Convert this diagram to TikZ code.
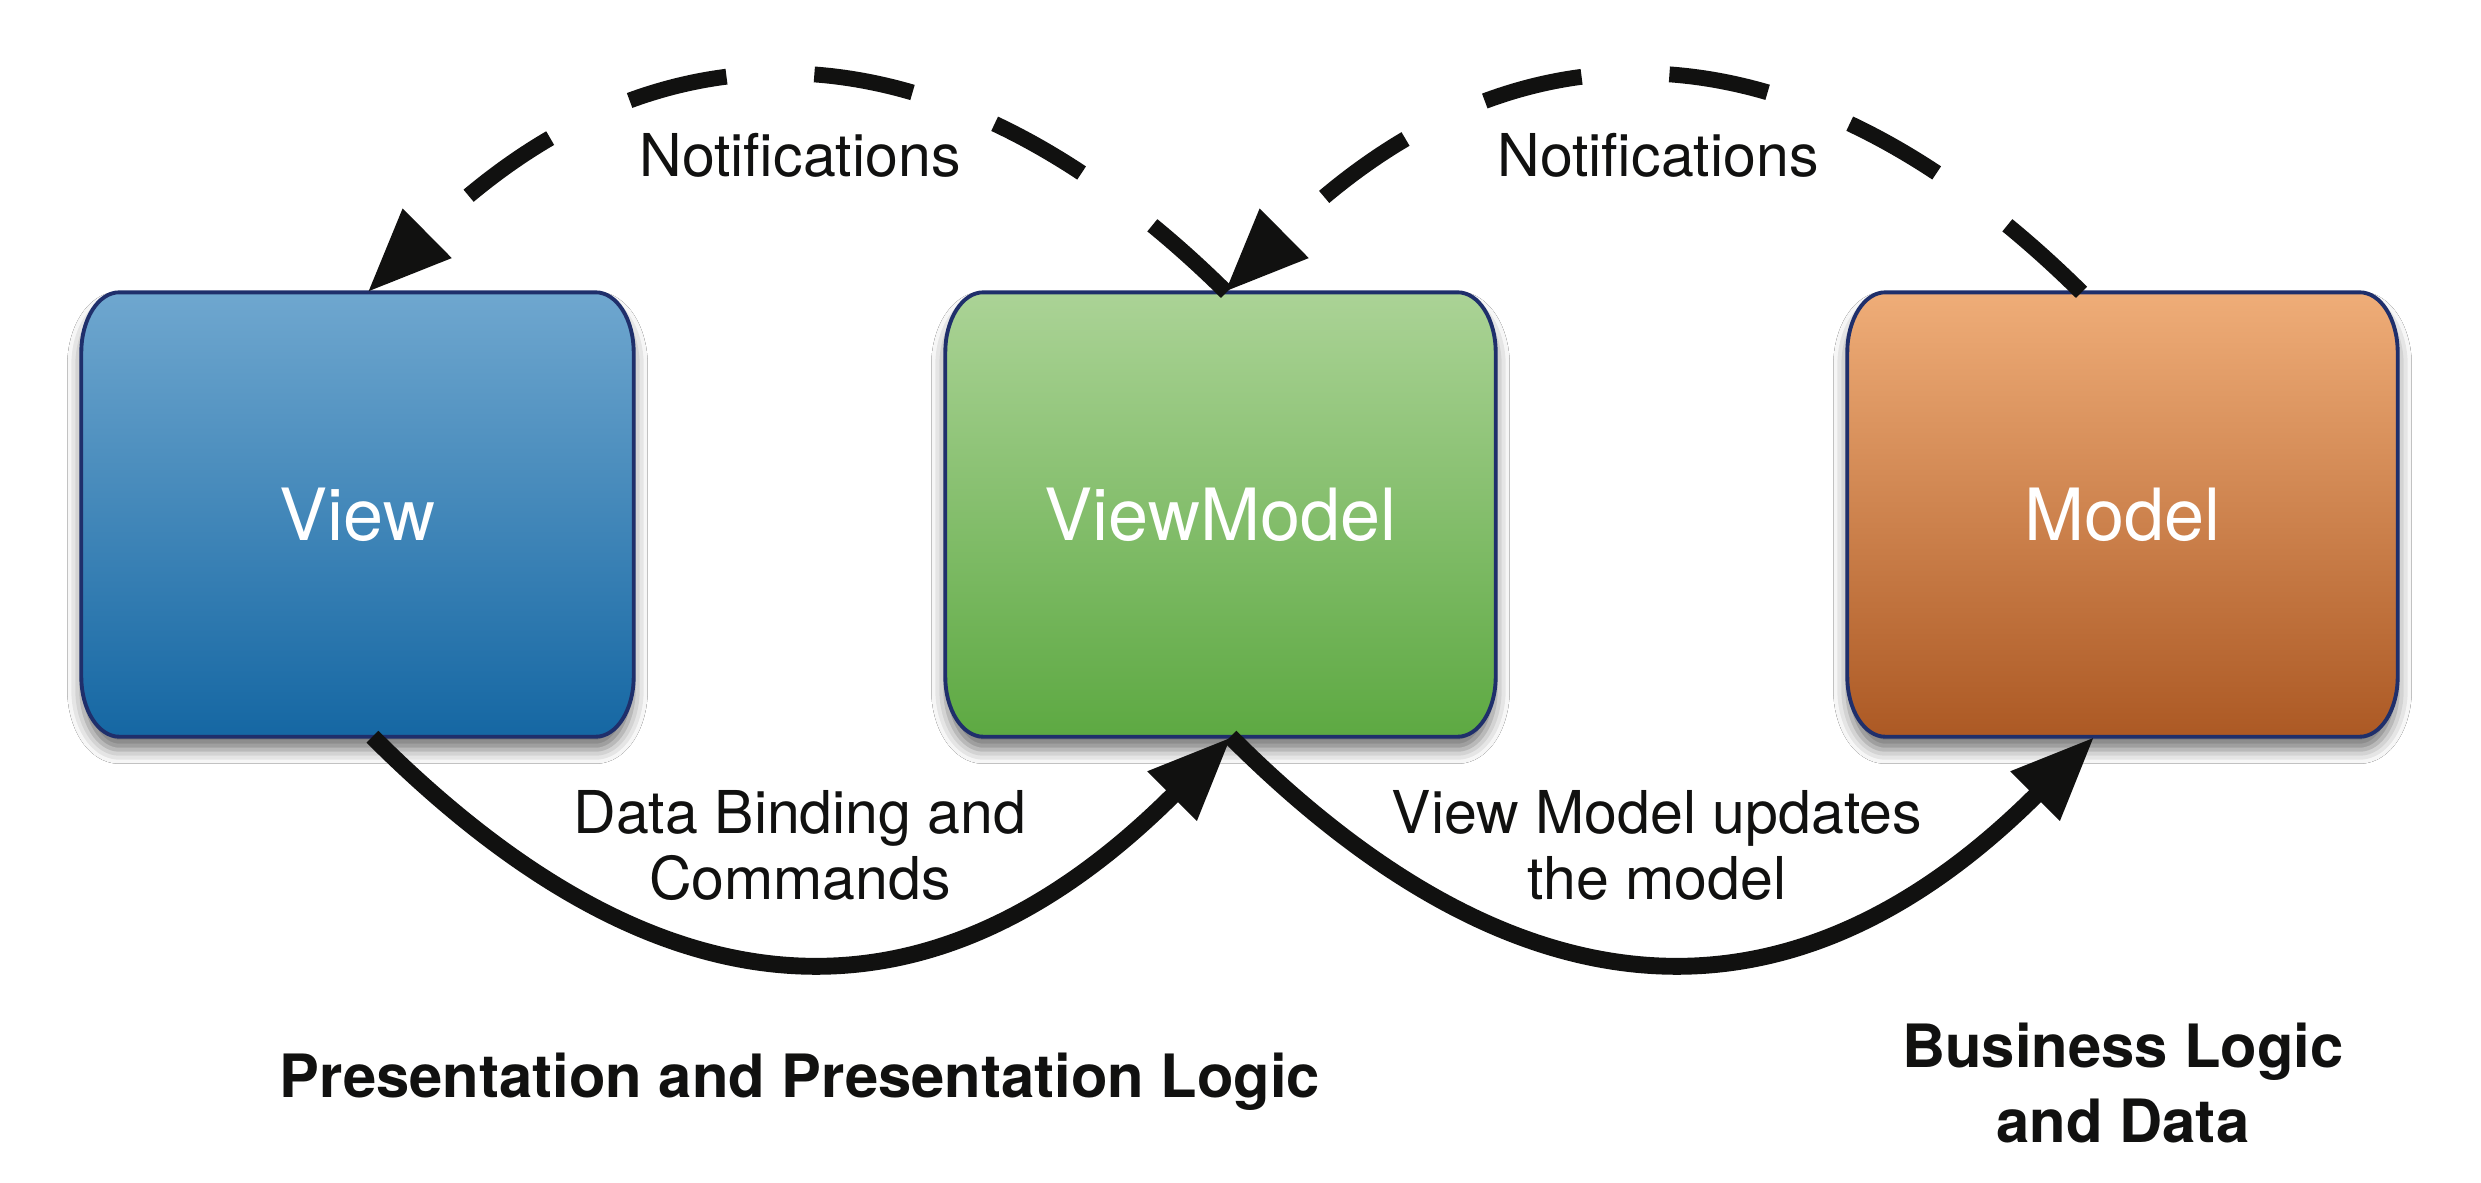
\documentclass[tikz,border=0pt]{standalone}
\usepackage{fontspec}
\setmainfont{TeX Gyre Heros}
\usetikzlibrary{arrows.meta,shadows.blur,calc}
\pgfdeclarelayer{background}
\pgfsetlayers{background,main}
\definecolor{viewtop}{HTML}{6FA7CF}
\definecolor{viewbot}{HTML}{1567A3}
\definecolor{vmtop}{HTML}{ABD396}
\definecolor{vmbot}{HTML}{5DA942}
\definecolor{modtop}{HTML}{EFAD78}
\definecolor{modbot}{HTML}{AC5924}
\definecolor{boxborder}{HTML}{1F2F6B}
\definecolor{inkblack}{HTML}{111110}
\newcommand\boxrx{0.38cm}
\newcommand\boxry{0.6cm}
\tikzset{
  boxnode/.style={minimum width=5.5cm, minimum height=4.43cm, inner sep=0pt,
    text=white, font=\fontsize{20.5pt}{24pt}\selectfont},
  lbl/.style={anchor=base, inner sep=0pt, text=inkblack,
    font=\fontsize{16.8pt}{20pt}\selectfont},
  boldlbl/.style={anchor=base, inner sep=0pt, text=inkblack,
    font=\fontsize{17pt}{20pt}\selectfont\bfseries},
  notify/.style={draw=inkblack, line width=4.5pt, dash pattern=on 1cm off 0.88cm,
    -{Triangle[length=0.84cm,width=0.65cm]}},
  flow/.style={draw=inkblack, line width=4.8pt,
    -{Triangle[length=0.84cm,width=0.65cm]}},
  boxshape/.style={draw=boxborder, line width=1.1pt,
    blur shadow={shadow xshift=0pt, shadow yshift=-0.13cm,
      shadow blur radius=0.14cm, shadow opacity=55}},
}
\newcommand\mvvmshape[3]{%
  \begin{pgfonlayer}{background}
  \path[boxshape, top color=#2, bottom color=#3]
    ([xshift=\boxrx]#1.north west) -- ([xshift=-\boxrx]#1.north east)
    arc[start angle=90, end angle=0, x radius=\boxrx, y radius=\boxry]
    -- ([yshift=\boxry]#1.south east)
    arc[start angle=0, end angle=-90, x radius=\boxrx, y radius=\boxry]
    -- ([xshift=\boxrx]#1.south west)
    arc[start angle=-90, end angle=-180, x radius=\boxrx, y radius=\boxry]
    -- ([yshift=-\boxry]#1.north west)
    arc[start angle=180, end angle=90, x radius=\boxrx, y radius=\boxry]
    -- cycle;
  \end{pgfonlayer}}
\begin{document}
\begin{tikzpicture}
\useasboundingbox (0,0) rectangle (24.81,-11.82);
\begin{pgfonlayer}{background}
  \fill[white] (0,0) rectangle (24.81,-11.82);
\end{pgfonlayer}

% boxes
\node[boxnode, minimum width=5.51cm] (view) at (3.575,-5.145) {View};
\node[boxnode, minimum width=5.49cm] (vm)   at (12.205,-5.145) {ViewModel};
\node[boxnode, minimum width=5.49cm] (model) at (21.225,-5.145) {Model};
\mvvmshape{view}{viewtop}{viewbot}
\mvvmshape{vm}{vmtop}{vmbot}
\mvvmshape{model}{modtop}{modbot}

% notifications (dashed, top)
\draw[notify] ([xshift=0.06cm]vm.north) .. controls +(-2.85,2.82) and +(2.85,2.82) .. ([xshift=0.10cm]view.north);
\draw[notify] ([xshift=-0.41cm]model.north) .. controls +(-2.85,2.82) and +(2.85,2.82) .. ([xshift=0.04cm]vm.north);

% data flow (solid, bottom)
\draw[flow] ([xshift=0.15cm]view.south) .. controls +(2.96,-2.96) and +(-2.96,-2.96) .. ([xshift=0.11cm]vm.south);
\draw[flow] ([xshift=0.10cm]vm.south) .. controls +(2.96,-2.96) and +(-2.96,-2.96) .. ([xshift=-0.28cm]model.south);

% labels
\node[lbl] (n1) at (8.00,-1.76) {Notifications};
\node[lbl] (n2) at (16.58,-1.76) {Notifications};
\node[lbl] (db1) at (8.00,-8.33) {Data Binding and};
\node[lbl] (db2) at (8.00,-8.99) {Commands};
\node[lbl] (up1) at (16.57,-8.33) {View Model updates};
\node[lbl] (up2) at (16.57,-8.99) {the model};
\node[boldlbl] (pres) at (8.00,-10.97) {Presentation and Presentation Logic};
\node[boldlbl] (bus1) at (21.23,-10.67) {Business Logic};
\node[boldlbl] (bus2) at (21.23,-11.42) {and Data};
\end{tikzpicture}
\end{document}
